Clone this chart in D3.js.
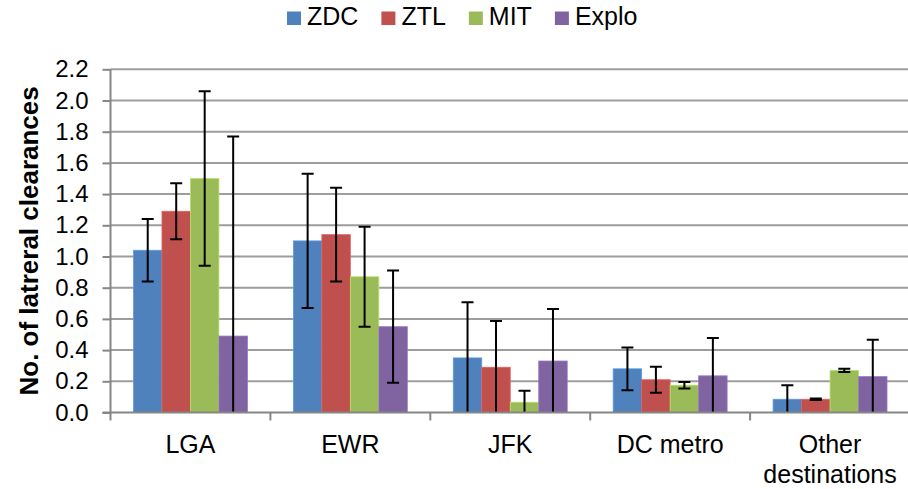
<!DOCTYPE html>
<html>
<head>
<meta charset="utf-8">
<script src="https://cdn.jsdelivr.net/npm/d3@7"></script>
<style>
  html, body { margin: 0; padding: 0; background: #fff; }
  svg { display: block; font-family: "Liberation Sans", Arial, sans-serif; }
</style>
</head>
<body>
<svg id="chart" width="908" height="489"></svg>
<script>
// Mean number of lateral clearances per destination, with error-bar half widths
const categories = ["LGA", "EWR", "JFK", "DC metro", "Other destinations"];
const seriesNames = ["ZDC", "ZTL", "MIT", "Explo"];
const seriesColors = ["#4F81BD", "#C0504D", "#9BBB59", "#8064A2"];

const zdcValues   = [1.04, 1.10, 0.35, 0.28, 0.085];
const ztlValues   = [1.29, 1.14, 0.29, 0.21, 0.085];
const mitValues   = [1.50, 0.87, 0.066, 0.175, 0.27];
const exploValues = [0.49, 0.55, 0.33, 0.235, 0.23];

const zdcErrors   = [0.20, 0.43, 0.356, 0.137, 0.09];
const ztlErrors   = [0.18, 0.30, 0.296, 0.083, 0.005];
const mitErrors   = [0.56, 0.32, 0.073, 0.021, 0.01];
const exploErrors = [1.28, 0.36, 0.334, 0.242, 0.237];

const yTicks = [0, 0.2, 0.4, 0.6, 0.8, 1.0, 1.2, 1.4, 1.6, 1.8, 2.0, 2.2];
const yTitle = "No. of latreral clearances";

const seriesValues = [zdcValues, ztlValues, mitValues, exploValues];
const seriesErrors = [zdcErrors, ztlErrors, mitErrors, exploErrors];

const rows = categories.map((c, i) => ({
  category: c,
  items: seriesNames.map((s, j) => ({
    series: s, color: seriesColors[j],
    value: seriesValues[j][i], err: seriesErrors[j][i]
  }))
}));

const svg = d3.select("#chart");
const plot = { left: 110.5, right: 910, top: 69.3, bottom: 412.5 };

const x0 = d3.scaleBand().domain(categories).range([plot.left, plot.right]).padding(0);
const x1 = d3.scaleBand().domain(seriesNames).range([0, x0.bandwidth()])
  .paddingInner(0).paddingOuter(0.807);
const y = d3.scaleLinear().domain([0, 2.2]).range([plot.bottom, plot.top]);

svg.append("defs").append("clipPath").attr("id", "plotClip")
  .append("rect")
  .attr("x", plot.left).attr("y", plot.top - 2)
  .attr("width", plot.right - plot.left).attr("height", plot.bottom - plot.top + 2);

// Horizontal gridlines
svg.append("g")
  .selectAll("line")
  .data(yTicks.filter(d => d > 0))
  .join("line")
  .attr("x1", plot.left).attr("x2", plot.right)
  .attr("y1", d => y(d)).attr("y2", d => y(d))
  .attr("stroke", "#9d9d9d").attr("stroke-width", 2);

// Bars
const groups = svg.append("g")
  .selectAll("g")
  .data(rows)
  .join("g")
  .attr("transform", d => `translate(${x0(d.category)},0)`);

groups.selectAll("rect")
  .data(d => d.items)
  .join("rect")
  .attr("x", d => x1(d.series))
  .attr("y", d => y(d.value))
  .attr("width", x1.bandwidth())
  .attr("height", d => y(0) - y(d.value))
  .attr("fill", d => d.color)
  .attr("stroke", d => d3.color(d.color).brighter(0.5))
  .attr("stroke-width", 0.8);

// Error bars
const errG = svg.append("g").attr("clip-path", "url(#plotClip)");
const capHalf = 6;
rows.forEach(row => {
  row.items.forEach(d => {
    const cx = x0(row.category) + x1(d.series) + x1.bandwidth() / 2;
    const yHi = y(d.value + d.err), yLo = y(d.value - d.err);
    const g = errG.append("g").attr("stroke", "#000").attr("stroke-width", 2);
    g.append("line").attr("x1", cx).attr("x2", cx).attr("y1", yHi).attr("y2", yLo);
    g.append("line").attr("x1", cx - capHalf).attr("x2", cx + capHalf).attr("y1", yHi).attr("y2", yHi);
    g.append("line").attr("x1", cx - capHalf).attr("x2", cx + capHalf).attr("y1", yLo).attr("y2", yLo);
  });
});

// Y axis
const yAxis = d3.axisLeft(y).tickValues(yTicks).tickFormat(d3.format(".1f"))
  .tickSize(8).tickPadding(14);
const yg = svg.append("g").attr("transform", `translate(${plot.left},0)`).call(yAxis);
yg.select(".domain").attr("stroke", "#868686").attr("stroke-width", 2)
  .attr("d", `M0,${plot.top}V${plot.bottom}`);
yg.selectAll(".tick line").attr("stroke", "#868686").attr("stroke-width", 2);
yg.selectAll(".tick text").attr("font-size", 24).attr("fill", "#000")
  .attr("font-family", "Liberation Sans, Arial, sans-serif");

// X axis
const xAxis = d3.axisBottom(x0).tickSize(0).tickFormat("");
const xg = svg.append("g").attr("transform", `translate(0,${plot.bottom})`).call(xAxis);
xg.select(".domain").attr("stroke", "#868686").attr("stroke-width", 2)
  .attr("d", `M${plot.left - 8},0H${plot.right}`);
xg.selectAll(".tick").remove();
xg.selectAll("line.cat")
  .data(categories.map(c => x0(c)).concat([plot.right]))
  .join("line").attr("class", "cat")
  .attr("x1", d => d).attr("x2", d => d)
  .attr("y1", 0).attr("y2", 8)
  .attr("stroke", "#868686").attr("stroke-width", 2);

// Category labels (wrapped onto two lines where needed)
const catLabels = svg.append("g").attr("font-size", 25).attr("text-anchor", "middle").attr("fill", "#000");
categories.forEach(c => {
  const words = c === "Other destinations" ? ["Other", "destinations"] : [c];
  const t = catLabels.append("text").attr("x", x0(c) + x0.bandwidth() / 2).attr("y", 453);
  words.forEach((w, i) => t.append("tspan")
    .attr("x", x0(c) + x0.bandwidth() / 2).attr("dy", i === 0 ? 0 : 30).text(w));
});

// Y-axis title
svg.append("text")
  .attr("transform", `translate(38,${(plot.top + plot.bottom) / 2 + 0}) rotate(-90)`)
  .attr("text-anchor", "middle")
  .attr("font-size", 26).attr("font-weight", "bold").attr("fill", "#000")
  .text(yTitle);

// Legend
const legend = svg.append("g").attr("font-size", 25).attr("fill", "#000");
let lx = 287;
seriesNames.forEach((s, i) => {
  legend.append("rect").attr("x", lx).attr("y", 11.5).attr("width", 14).attr("height", 13.5)
    .attr("fill", seriesColors[i]);
  const t = legend.append("text").attr("x", lx + 20).attr("y", 25).text(s);
  lx += 20 + t.node().getComputedTextLength() + 23;
});
</script>
</body>
</html>
